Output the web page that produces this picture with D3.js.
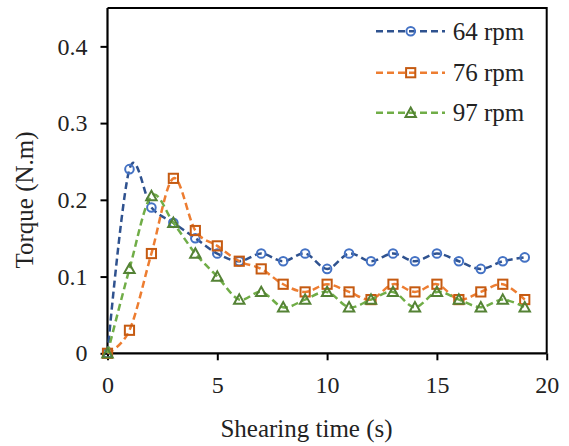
<!DOCTYPE html>
<html>
<head>
<meta charset="utf-8">
<script src="https://cdn.jsdelivr.net/npm/d3@7"></script>
<style>
  html, body { margin: 0; padding: 0; background: #fff; }
  svg { display: block; }
  svg text { font-family: "Liberation Serif", "Times New Roman", "DejaVu Serif", serif; }
</style>
</head>
<body>
<svg id="chart" width="569" height="446"></svg>
<script>
// Shearing time (s)
const time = [0, 1, 2, 3, 4, 5, 6, 7, 8, 9, 10, 11, 12, 13, 14, 15, 16, 17, 18, 19];
// Torque (N.m) per rotor speed
const rpm64 = [0, 0.24, 0.19, 0.17, 0.15, 0.13, 0.12, 0.13, 0.12, 0.13, 0.11, 0.13, 0.12, 0.13, 0.12, 0.13, 0.12, 0.11, 0.12, 0.125];
const rpm76 = [0, 0.03, 0.13, 0.228, 0.16, 0.14, 0.12, 0.11, 0.09, 0.08, 0.09, 0.08, 0.07, 0.09, 0.08, 0.09, 0.07, 0.08, 0.09, 0.07];
const rpm97 = [0, 0.11, 0.205, 0.17, 0.13, 0.10, 0.07, 0.08, 0.06, 0.07, 0.08, 0.06, 0.07, 0.08, 0.06, 0.08, 0.07, 0.06, 0.07, 0.06];
const seriesNames = ["64 rpm", "76 rpm", "97 rpm"];
const xTicks = [0, 5, 10, 15, 20];
const yTicks = [0, 0.1, 0.2, 0.3, 0.4];

const series = [
  { name: seriesNames[0], values: rpm64, line: "#2F528F", mark: "#4472C4", shape: "circle" },
  { name: seriesNames[1], values: rpm76, line: "#ED7D31", mark: "#C55A11", shape: "square" },
  { name: seriesNames[2], values: rpm97, line: "#70AD47", mark: "#548235", shape: "triangle" }
];

const svg = d3.select("#chart");
const plotLeft = 107.5, plotRight = 546.7, plotTop = 8, plotBottom = 353.3;

const x = d3.scaleLinear().domain([0, 20]).range([plotLeft, plotRight]);
const y = d3.scaleLinear().domain([0, 0.45]).range([plotBottom, plotTop]);

// frame (top and right sides)
svg.append("path")
  .attr("d", `M${plotLeft},${plotTop}H${plotRight}V${plotBottom}`)
  .attr("fill", "none").attr("stroke", "#000").attr("stroke-width", 2);

// axes
const xAxis = svg.append("g").attr("transform", `translate(0,${plotBottom})`)
  .call(d3.axisBottom(x).tickValues(xTicks).tickSize(7).tickPadding(16).tickFormat(d3.format("d")));
const yAxis = svg.append("g").attr("transform", `translate(${plotLeft},0)`)
  .call(d3.axisLeft(y).tickValues(yTicks).tickSize(7).tickPadding(13).tickFormat(d => d === 0 ? "0" : d3.format(".1f")(d)));

[xAxis, yAxis].forEach(g => {
  g.attr("font-family", null).attr("font-size", null);
  g.select(".domain").attr("stroke", "#000").attr("stroke-width", 2.2);
  g.selectAll(".tick line").attr("stroke", "#000").attr("stroke-width", 2);
  g.selectAll(".tick text").attr("fill", "#222").style("font-size", "24px");
});
xAxis.select(".domain").attr("d", `M${plotLeft},0H${plotRight}`);
yAxis.select(".domain").attr("d", `M0,${plotBottom}V${plotTop}`);

// axis titles
svg.append("text")
  .attr("x", 306.5).attr("y", 437)
  .attr("text-anchor", "middle")
  .attr("fill", "#222")
  .style("font-size", "25px")
  .text("Shearing time (s)");

svg.append("text")
  .attr("transform", "translate(33,200) rotate(-90)")
  .attr("text-anchor", "middle")
  .attr("fill", "#222")
  .style("font-size", "25px")
  .text("Torque (N.m)");

// marker drawing
function drawMarker(g, shape, color) {
  if (shape === "circle") {
    g.append("circle").attr("r", 4.3);
  } else if (shape === "square") {
    g.append("rect").attr("x", -4.6).attr("y", -4.6).attr("width", 9.2).attr("height", 9.2);
  } else {
    g.append("path").attr("d", "M0,-5.2L5.2,4.2L-5.2,4.2Z");
  }
  g.selectAll("*").attr("fill", "none").attr("stroke", color).attr("stroke-width", 2);
}

const line = d3.line()
  .x((d, i) => x(time[i]))
  .y(d => y(d))
  .curve(d3.curveCardinal.tension(0));

series.forEach(s => {
  const g = svg.append("g");
  g.append("path")
    .datum(s.values)
    .attr("d", line)
    .attr("fill", "none")
    .attr("stroke", s.line)
    .attr("stroke-width", 2.5)
    .attr("stroke-dasharray", "7,4");
  g.selectAll(".pt")
    .data(s.values)
    .join("g")
    .attr("class", "pt")
    .attr("transform", (d, i) => `translate(${x(time[i])},${y(d)})`)
    .each(function () { drawMarker(d3.select(this), s.shape, s.mark); });
});

// legend
const legendRows = [31.3, 72.7, 112.7];
series.forEach((s, i) => {
  const g = svg.append("g").attr("transform", `translate(0,${legendRows[i]})`);
  g.append("line")
    .attr("x1", 376).attr("x2", 445).attr("y1", 0).attr("y2", 0)
    .attr("stroke", s.line).attr("stroke-width", 2.5).attr("stroke-dasharray", "7,4");
  const m = g.append("g").attr("transform", "translate(410.7,0)");
  drawMarker(m, s.shape, s.mark);
  g.append("text")
    .attr("x", 452.7).attr("y", 0).attr("dy", "0.35em")
    .attr("fill", "#222")
    .style("font-size", "25px")
    .text(s.name);
});
</script>
</body>
</html>
